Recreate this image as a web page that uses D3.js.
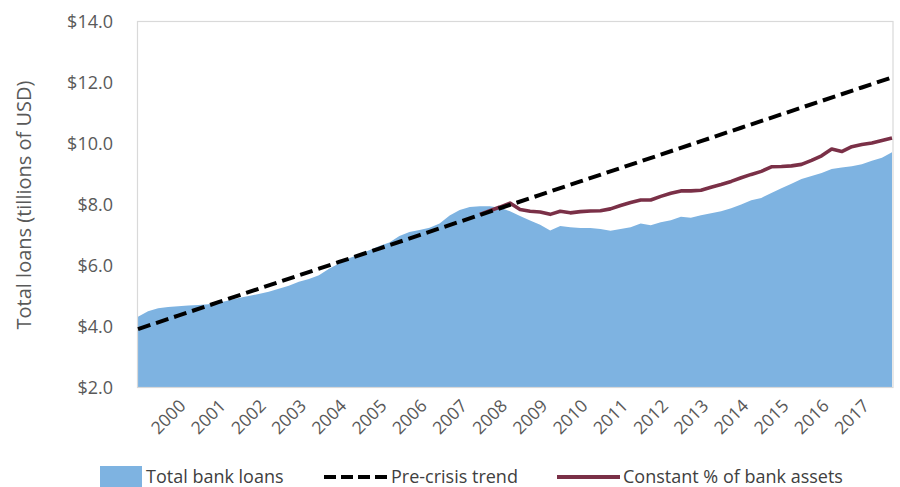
<!DOCTYPE html>
<html><head><meta charset="utf-8">
<script src="https://cdn.jsdelivr.net/npm/d3@7"></script>
<style>
body{margin:0;background:#fff}
text{font-family:"Open Sans",Lato,sans-serif}
</style></head>
<body><svg id="c" width="900" height="487"></svg>
<script>
const years = [1999,2000,2001,2002,2003,2004,2005,2006,2007,2008,2009,2010,2011,2012,2013,2014,2015,2016,2017];
const quarterNames = ["Q1","Q2","Q3","Q4"];
const quarters = years.flatMap(y => quarterNames.map(q => y + q));

// Total bank loans (trillions USD), quarterly 1999Q1–2017Q4
const totalLoans = [
  4.30,4.48,4.58,4.62,4.65,4.67,4.69,4.71,4.76,4.84,
  4.92,4.98,5.05,5.12,5.22,5.32,5.45,5.54,5.66,5.88,
  6.05,6.22,6.35,6.48,6.62,6.74,6.95,7.08,7.15,7.22,
  7.36,7.62,7.80,7.90,7.93,7.93,7.88,7.76,7.61,7.46,
  7.32,7.13,7.28,7.24,7.21,7.21,7.18,7.12,7.18,7.24,
  7.36,7.30,7.40,7.47,7.58,7.55,7.63,7.70,7.76,7.86,
  7.98,8.12,8.20,8.36,8.52,8.66,8.82,8.92,9.02,9.15,
  9.20,9.24,9.30,9.42,9.52,9.70
];

// Constant % of bank assets, from 2007Q3 to 2017Q4
const constantStart = "2007Q3";
const constantShare = [
  7.66,7.78,7.90,8.03,7.82,7.76,7.74,7.66,7.76,7.71,
  7.75,7.77,7.78,7.84,7.95,8.05,8.13,8.13,8.25,8.35,
  8.43,8.43,8.45,8.55,8.64,8.74,8.86,8.97,9.07,9.22,
  9.23,9.25,9.30,9.43,9.58,9.80,9.72,9.88,9.95,10.00,
  10.08,10.16
];

// Pre-crisis trend (straight line), read at each Q1 and the last quarter
const trendQuarters = ["1999Q1","2000Q1","2001Q1","2002Q1","2003Q1","2004Q1","2005Q1","2006Q1","2007Q1","2008Q1",
  "2009Q1","2010Q1","2011Q1","2012Q1","2013Q1","2014Q1","2015Q1","2016Q1","2017Q1","2017Q4"];
const trendValues = [3.90,4.34,4.78,5.22,5.66,6.10,6.54,6.98,7.42,7.86,
  8.30,8.74,9.18,9.62,10.06,10.50,10.94,11.38,11.82,12.15];

const xTickQuarters = ["2000Q1","2001Q1","2002Q1","2003Q1","2004Q1","2005Q1","2006Q1","2007Q1","2008Q1",
  "2009Q1","2010Q1","2011Q1","2012Q1","2013Q1","2014Q1","2015Q1","2016Q1","2017Q1"];
const xTickLabels = ["2000","2001","2002","2003","2004","2005","2006","2007","2008",
  "2009","2010","2011","2012","2013","2014","2015","2016","2017"];
const yTickValues = [2,4,6,8,10,12,14];
const yTitle = "Total loans (tillions of USD)";
const legendNames = ["Total bank loans","Pre-crisis trend","Constant % of bank assets"];

const svg = d3.select("#c");
const L = 138, R = 892, T = 21, B = 387;
const x = d3.scalePoint().domain(quarters).range([L, R]);
const y = d3.scaleLinear().domain([2, 14]).range([B, T]);

const COL_AREA = "#7eb3e1", COL_RED = "#7a3047", TXT = "#595959";

// area
const area = d3.area().x((d,i) => x(quarters[i])).y0(y(2)).y1(d => y(d));
svg.append("path").datum(totalLoans).attr("d", area).attr("fill", COL_AREA);

// border
svg.append("rect").attr("x", L - 0.5).attr("y", T + 0.5).attr("width", R - L + 1.5).attr("height", B - T)
  .attr("fill", "none").attr("stroke", "#d9d9d9").attr("stroke-width", 1.2);

// constant share line
const cs0 = quarters.indexOf(constantStart);
const lineC = d3.line().x((d,i) => x(quarters[cs0 + i])).y(d => y(d));
svg.append("path").datum(constantShare).attr("d", lineC).attr("fill", "none")
  .attr("stroke", COL_RED).attr("stroke-width", 3.6).attr("stroke-linejoin", "round");

// trend line
const lineT = d3.line().x((d,i) => x(trendQuarters[i])).y(d => y(d));
svg.append("path").datum(trendValues).attr("d", lineT).attr("fill", "none")
  .attr("stroke", "#000").attr("stroke-width", 4).attr("stroke-dasharray", "13,6");

// y axis
const ya = svg.append("g").attr("transform", `translate(${L},0)`)
  .call(d3.axisLeft(y).tickValues(yTickValues).tickFormat(d => "$" + d.toFixed(1)).tickSize(0).tickPadding(25));
ya.select(".domain").remove();
ya.selectAll("text").attr("fill", TXT).style("font-size", "18px").style("font-family", "'Open Sans'").attr("dy", "0.35em");

// x axis
const xa = svg.append("g").attr("transform", `translate(0,${B})`)
  .call(d3.axisBottom(x).tickValues(xTickQuarters).tickFormat((d,i) => xTickLabels[i]).tickSize(0));
xa.select(".domain").remove();
xa.selectAll("text").attr("x", 0).attr("y", 0).attr("dy", 0)
  .attr("transform", "translate(8,20) rotate(-45)").style("text-anchor", "end")
  .attr("fill", TXT).style("font-size", "17.5px").style("font-family", "'Open Sans'");

// y title
svg.append("text").attr("transform", "translate(31,205) rotate(-90)").attr("text-anchor", "middle")
  .attr("fill", TXT).style("font-size", "20px").text(yTitle);

// legend
const lg = svg.append("g").style("font-size", "18px");
const ly = 477;
lg.append("rect").attr("x", 100).attr("y", 466).attr("width", 42).attr("height", 22).attr("fill", COL_AREA);
lg.append("text").attr("x", 146).attr("y", ly).attr("dy", "0.35em").attr("fill", "#404040").text(legendNames[0]);
lg.append("line").attr("x1", 324).attr("x2", 388).attr("y1", ly).attr("y2", ly)
  .attr("stroke", "#000").attr("stroke-width", 4).attr("stroke-dasharray", "12,5");
lg.append("text").attr("x", 391).attr("y", ly).attr("dy", "0.35em").attr("fill", "#404040").text(legendNames[1]);
lg.append("line").attr("x1", 557).attr("x2", 620).attr("y1", ly).attr("y2", ly)
  .attr("stroke", COL_RED).attr("stroke-width", 4);
lg.append("text").attr("x", 623).attr("y", ly).attr("dy", "0.35em").attr("fill", "#404040").text(legendNames[2]);
</script>
</body></html>
